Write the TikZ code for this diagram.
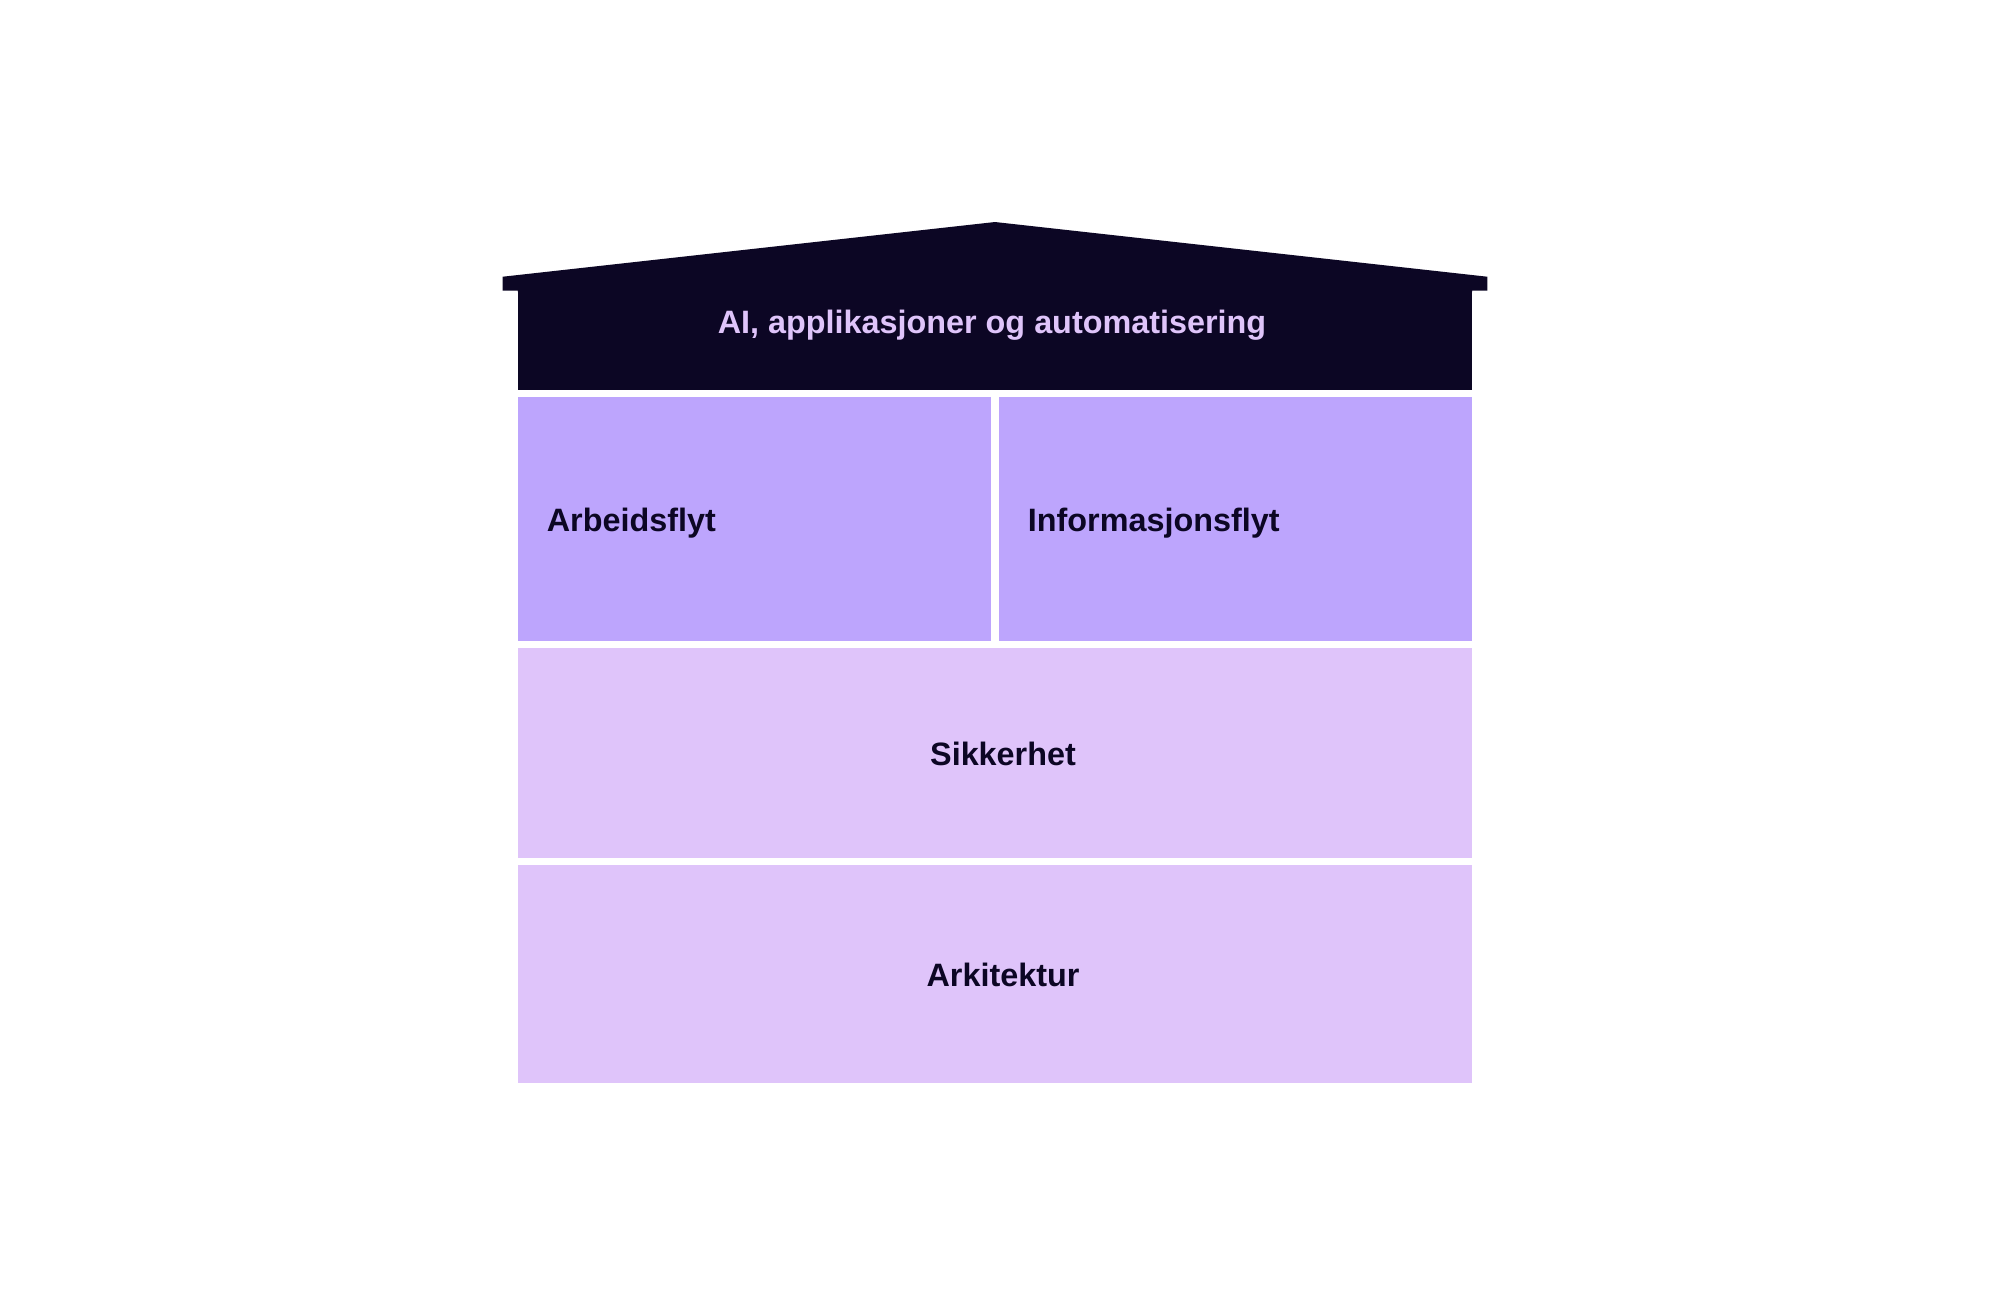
\documentclass[tikz,border=0pt]{standalone}
\usepackage{fontspec}
\setmainfont{Liberation Sans}
\definecolor{cNavy}{RGB}{12,6,36}
\definecolor{cLilla}{RGB}{189,165,253}
\definecolor{cLys}{RGB}{223,196,250}

\begin{document}
\begin{tikzpicture}[
  x=0.01cm, y=-0.01cm, font=\fontsize{9.2}{11}\selectfont\bfseries,
  lag/.style ={inner sep=0pt, outer sep=0pt, text height=0.72em, text depth=0pt, text=cNavy},
  bred/.style={lag, fill=cLys, minimum width=9.54cm, align=center,
               execute at begin node=\hspace*{0.16cm}},
  halv/.style={lag, fill=cLilla, minimum height=2.44cm, text width=4.15cm,
               inner xsep=0.29cm, align=left},
]
\useasboundingbox (0,0) rectangle (1990,1308);

% rows, top to bottom (pixel grid of the page)
\node[lag, fill=cNavy, minimum width=9.54cm, minimum height=0.99cm] (kropp) at (995,340.1) {};
\node[halv] (arbeid) at (754.5,519)  {Arbeidsflyt};
\node[halv] (info)   at (1235.5,519) {Informasjonsflyt};
\node[bred, minimum height=2.095cm] (sikker) at (995,753.2) {Sikkerhet};
\node[bred, minimum height=2.17cm]  (arkit)  at (995,974)   {Arkitektur};

% ----- roof with eaves ---------------------------------------------------
\fill[cNavy] (502.6,276.7) -- (995,222) -- (1487.4,276.7) -- (1487.4,290.6)
  -- (1472.2,290.6) -- (1472.2,292) -- (517.8,292) -- (517.8,290.6)
  -- (502.6,290.6) -- cycle;
\node[lag, text=cLys] (tak) at (992,321.3) {AI, applikasjoner og automatisering};

\end{tikzpicture}
\end{document}
